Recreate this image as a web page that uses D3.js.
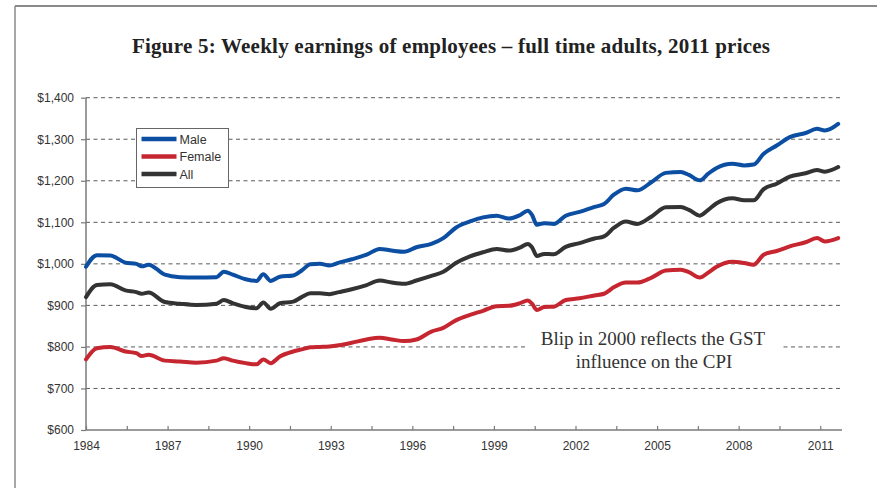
<!DOCTYPE html>
<html>
<head>
<meta charset="utf-8">
<script src="https://cdn.jsdelivr.net/npm/d3@7"></script>
<style>
  body { margin: 0; background: #fff; }
  svg { display: block; }
</style>
</head>
<body>
<div id="viz-container"></div>
<script>
// points placed where the lines turn
let years = [1984.0, 1984.4, 1984.9, 1985.45, 1985.85, 1986.05, 1986.3, 1986.9, 1987.45, 1988.05,
  1988.8, 1989.07, 1989.4, 1989.87, 1990.27, 1990.52, 1990.79, 1991.13, 1991.62, 1991.93,
  1992.25, 1992.6, 1992.95, 1993.3, 1993.77, 1994.32, 1994.8, 1995.24, 1995.7, 1996.15,
  1996.7, 1997.14, 1997.6, 1998.12, 1998.6, 1999.1, 1999.55, 1999.95, 2000.25, 2000.4,
  2000.58, 2000.85, 2001.2, 2001.64, 2002.15, 2002.7, 2003.05, 2003.42, 2003.85, 2004.27,
  2004.8, 2005.32, 2005.87, 2006.17, 2006.57, 2006.88, 2007.19, 2007.77, 2008.2, 2008.55,
  2008.92, 2009.4, 2009.88, 2010.46, 2010.88, 2011.17, 2011.66];

let male = [993, 1021, 1020, 1003, 1000, 994, 998, 974, 968, 967,
  968, 981, 974, 963, 959, 975, 959, 969, 972, 984,
  999, 1000, 996, 1003, 1011, 1022, 1036, 1032, 1029, 1040,
  1048, 1062, 1087, 1102, 1112, 1116, 1109, 1117, 1128, 1118,
  1094, 1098, 1096, 1116, 1125, 1137, 1144, 1167, 1181, 1177,
  1197, 1219, 1221, 1214, 1201, 1217, 1231, 1241, 1237, 1239,
  1265, 1285, 1305, 1315, 1325, 1321, 1337];

let female = [770, 797, 800, 789, 785, 778, 781, 767, 765, 762,
  767, 773, 767, 761, 758, 770, 761, 777, 789, 794,
  799, 800, 801, 804, 810, 818, 822, 818, 814, 818,
  837, 846, 864, 877, 887, 898, 899, 905, 912, 904,
  889, 896, 897, 913, 917, 924, 928, 944, 955, 955,
  967, 984, 986, 980, 967, 979, 993, 1005, 1002, 998,
  1022, 1031, 1042, 1052, 1062, 1054, 1062];

let all = [920, 949, 951, 936, 932, 928, 931, 908, 904, 901,
  904, 913, 905, 896, 893, 907, 892, 905, 909, 920,
  929, 929, 927, 932, 939, 949, 960, 955, 952, 960,
  971, 981, 1002, 1018, 1028, 1036, 1032, 1039, 1048, 1040,
  1019, 1024, 1023, 1041, 1050, 1061, 1066, 1087, 1102, 1096,
  1114, 1136, 1137, 1130, 1116, 1130, 1146, 1158, 1153, 1153,
  1180, 1193, 1210, 1218, 1226, 1222, 1233];

let seriesNames = ['Male', 'Female', 'All'];
let seriesColors = ['#0b4ea2', '#c62630', '#333333'];
let yTicks = [600, 700, 800, 900, 1000, 1100, 1200, 1300, 1400];
let xLabels = [1984, 1987, 1990, 1993, 1996, 1999, 2002, 2005, 2008, 2011];

let viz = d3.select('#viz-container')
  .append('svg')
    .attr('width', 877)
    .attr('height', 488)
;

// page frame
viz.append('line')
  .attr('x1', 15).attr('y1', 6).attr('x2', 877).attr('y2', 6)
  .attr('stroke', '#8a8a8a').attr('stroke-width', 2);
viz.append('line')
  .attr('x1', 15).attr('y1', 6).attr('x2', 15).attr('y2', 488)
  .attr('stroke', '#8a8a8a').attr('stroke-width', 1.5);

viz.append('text')
  .attr('x', 451)
  .attr('y', 53)
  .attr('text-anchor', 'middle')
  .attr('font-family', 'Liberation Serif, serif')
  .attr('font-weight', 'bold')
  .attr('font-size', 21)
  .attr('textLength', 638)
  .attr('lengthAdjust', 'spacing')
  .attr('fill', '#222')
  .text('Figure 5: Weekly earnings of employees – full time adults, 2011 prices');

let xScale = d3.scaleLinear().domain([1984, 2011.8]).range([86, 842]);
let yScale = d3.scaleLinear().domain([600, 1400]).range([430, 97.7]);

// dashed gridlines
viz.selectAll('.grid').data(yTicks.slice(1)).enter()
  .append('line')
    .attr('class', 'grid')
    .attr('x1', 86)
    .attr('x2', 842)
    .attr('y1', d => yScale(d))
    .attr('y2', d => yScale(d))
    .attr('stroke', '#5a5a5a')
    .attr('stroke-width', 1)
    .attr('stroke-dasharray', '4,3.5');

// y axis
let yAxis = d3.axisLeft(yScale)
  .tickValues(yTicks)
  .tickSize(5)
  .tickPadding(7)
  .tickFormat(d => '$' + d3.format(',')(d));

let gy = viz.append('g')
  .attr('transform', 'translate(86,0)')
  .call(yAxis);

// x axis: ticks every 18 months pointing up, labels every 3 years
let xTicks = d3.range(1984, 2011.1, 1.5);
let xAxis = d3.axisBottom(xScale)
  .tickValues(xTicks)
  .tickSize(0)
  .tickPadding(11)
  .tickFormat(d => xLabels.includes(d) ? d : '');

let gx = viz.append('g')
  .attr('transform', 'translate(0,430)')
  .call(xAxis);

gx.selectAll('.tick line')
  .attr('y1', -4)
  .attr('y2', 0);

[gx, gy].forEach(function(g){
  g.select('.domain').attr('stroke', '#7a7a7a').attr('stroke-width', 1.5);
  g.selectAll('.tick line').attr('stroke', '#7a7a7a').attr('stroke-width', 1.2);
  g.selectAll('text')
    .attr('font-family', 'Liberation Sans, Arial, sans-serif')
    .attr('font-size', 12)
    .attr('fill', '#333');
});
gy.select('.domain').attr('d', 'M0,' + yScale(1400) + 'V' + yScale(600));
gx.select('.domain').attr('d', 'M86,0H842');

// annotation, white box hides the gridline behind it
viz.append('rect')
  .attr('x', 526)
  .attr('y', 328)
  .attr('width', 256)
  .attr('height', 46)
  .attr('fill', '#fff');

let note = viz.append('text')
  .attr('text-anchor', 'middle')
  .attr('font-family', 'Liberation Serif, serif')
  .attr('font-size', 19)
  .attr('fill', '#333');
note.append('tspan').attr('x', 653).attr('y', 345).text('Blip in 2000 reflects the GST');
note.append('tspan').attr('x', 654).attr('y', 368).text('influence on the CPI');

// the three lines
let seriesData = [male, female, all];
let line = d3.line()
  .x((d, i) => xScale(years[i]))
  .y(d => yScale(d))
  .curve(d3.curveMonotoneX);

viz.selectAll('.series').data(seriesData).enter()
  .append('path')
    .attr('class', 'series')
    .attr('d', line)
    .attr('fill', 'none')
    .attr('stroke', (d, i) => seriesColors[i])
    .attr('stroke-width', 4)
    .attr('stroke-linejoin', 'round')
    .attr('stroke-linecap', 'round');

// legend
let legend = viz.append('g');
legend.append('rect')
  .attr('x', 136.5)
  .attr('y', 128.5)
  .attr('width', 92)
  .attr('height', 59)
  .attr('fill', '#fff')
  .attr('stroke', '#666')
  .attr('stroke-width', 1);

legend.selectAll('line').data(seriesNames).enter()
  .append('line')
    .attr('x1', 141.5)
    .attr('x2', 176.5)
    .attr('y1', (d, i) => 139 + i * 17.5)
    .attr('y2', (d, i) => 139 + i * 17.5)
    .attr('stroke', (d, i) => seriesColors[i])
    .attr('stroke-width', 4.5);

legend.selectAll('text').data(seriesNames).enter()
  .append('text')
    .attr('x', 179.5)
    .attr('y', (d, i) => 143.5 + i * 17.5)
    .attr('font-family', 'Liberation Sans, Arial, sans-serif')
    .attr('font-size', 12.5)
    .attr('fill', '#333')
    .text(d => d);
</script>
</body>
</html>
